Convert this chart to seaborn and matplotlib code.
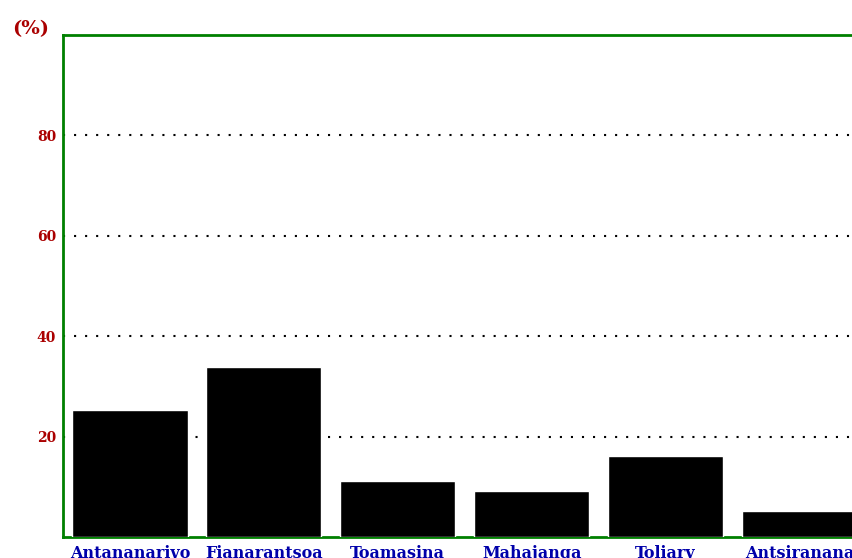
import matplotlib
matplotlib.use("Agg")
import matplotlib.pyplot as plt
import seaborn as sns
import pandas as pd

categories = ["Antananarivo", "Fianarantsoa", "Toamasina", "Mahajanga", "Toliary", "Antsiranana"]
values = [25.3, 33.8, 11.2, 9.2, 16.2, 5.2]
yticks = [20, 40, 60, 80]

sns.set_style("white")
plt.rcParams['font.family'] = ['DejaVu Serif']

df = pd.DataFrame({"region": categories, "pct": values})

fig = plt.figure(figsize=(8.53, 5.58), dpi=100)
ax = fig.add_axes([63/853, 21/558, 1 - 63/853, (537 - 35)/558])
sns.barplot(data=df, x="region", y="pct", color="black", width=0.86,
            saturation=1, ax=ax, zorder=3)
ax.set_xlim(-0.5, 5.4)
ax.set_ylim(0, 100)
ax.set_yticks(yticks)
ax.set_yticklabels([str(t) for t in yticks], color="#aa0000", fontweight="bold", fontsize=10)
for t in yticks:
    ax.axhline(t, color="black", linestyle=(0, (1, 4.3)), linewidth=1.5, zorder=1)
ax.tick_params(axis="both", length=0, pad=5)
ax.tick_params(axis="x", pad=6)
for lbl in ax.get_xticklabels():
    lbl.set_color("#0000aa")
    lbl.set_fontweight("bold")
    lbl.set_fontsize(11.5)
ax.set_xlabel("")
ax.set_ylabel("")
for s in ["left", "top", "bottom"]:
    ax.spines[s].set_color("#008000")
    ax.spines[s].set_linewidth(2)
ax.spines["right"].set_visible(False)
fig.text(12/853, 1 - 29/558, "(%)", color="#aa0000", fontsize=14, fontweight="bold",
         va="center", ha="left")
fig.savefig("out.png", dpi=100)
